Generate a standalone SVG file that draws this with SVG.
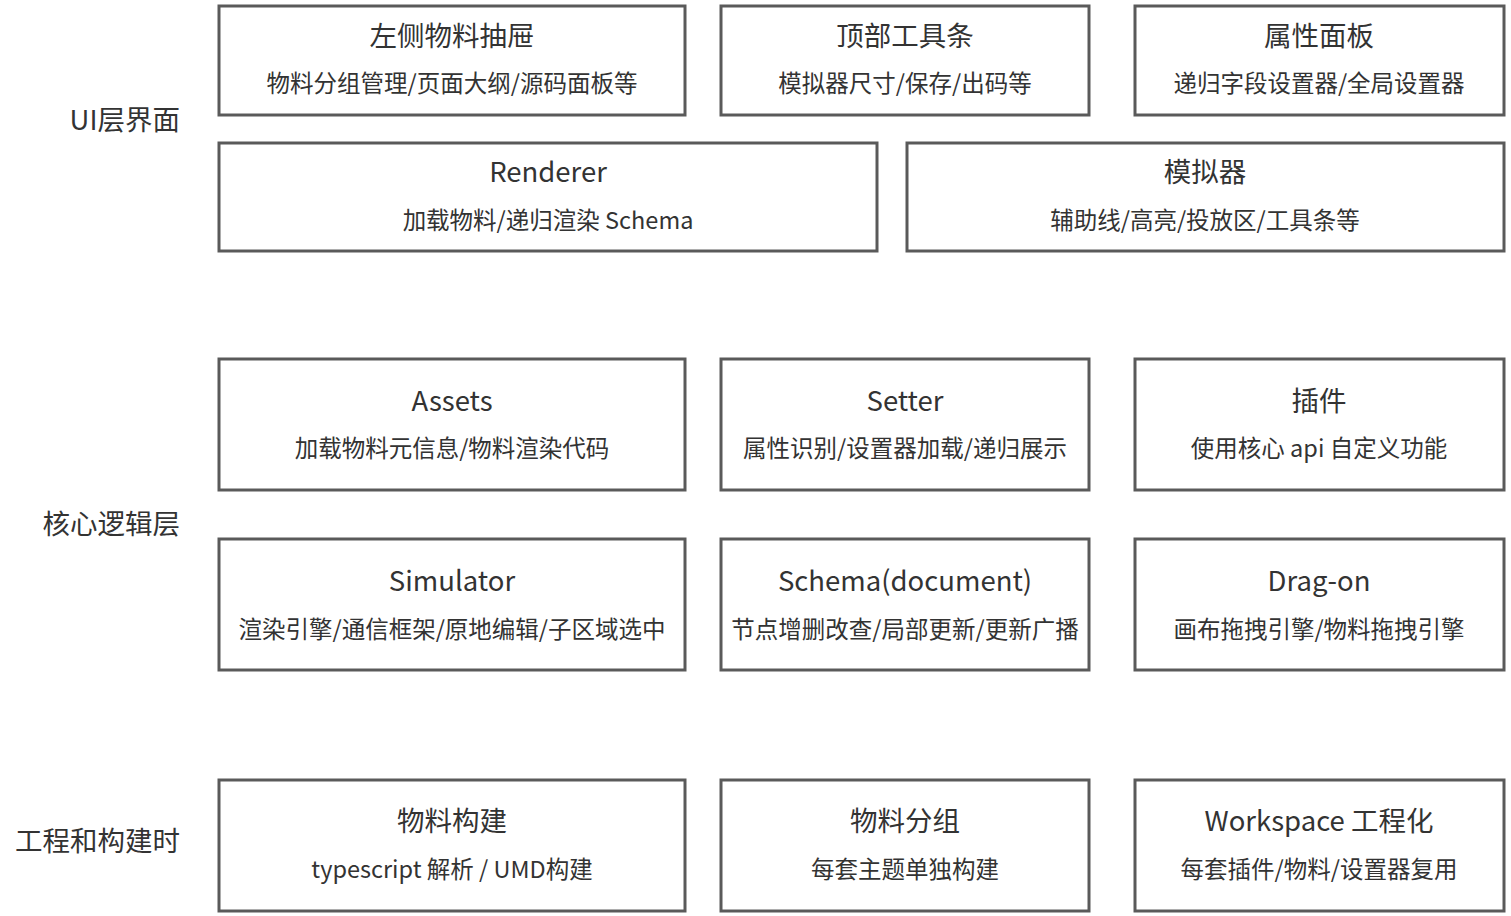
<svg xmlns="http://www.w3.org/2000/svg" width="1511" height="916" viewBox="0 0 1511 916">
<style>
.box{fill:#fff;stroke:#5a5a5a;stroke-width:3}
text{font-family:"Noto Sans CJK SC","Noto Sans",sans-serif;fill:#333;dominant-baseline:central}
.t{font-size:27.5px;text-anchor:middle}
.s{font-size:23.5px;text-anchor:middle}
.l{font-size:27.5px;text-anchor:end}
</style>
<rect width="1511" height="916" fill="#fff"/>
<g id="layer-labels">
<text class="l" x="180" y="118">UI层界面</text>
<text class="l" x="180" y="522">核心逻辑层</text>
<text class="l" x="180" y="839">工程和构建时</text>
</g>
<g id="left-drawer"><rect class="box" x="219" y="6" width="466" height="109"/><text class="t" x="452" y="34">左侧物料抽屉</text><text class="s" x="452" y="82">物料分组管理/页面大纲/源码面板等</text></g>
<g id="toolbar"><rect class="box" x="721" y="6" width="368" height="109"/><text class="t" x="905" y="34">顶部工具条</text><text class="s" x="905" y="82">模拟器尺寸/保存/出码等</text></g>
<g id="props"><rect class="box" x="1135" y="6" width="369" height="109"/><text class="t" x="1319" y="34">属性面板</text><text class="s" x="1319" y="82">递归字段设置器/全局设置器</text></g>
<g id="renderer"><rect class="box" x="219" y="143" width="658" height="108"/><text class="t" x="548" y="170">Renderer</text><text class="s" x="548" y="219">加载物料/递归渲染 Schema</text></g>
<g id="simulator-ui"><rect class="box" x="907" y="143" width="597" height="108"/><text class="t" x="1205" y="170">模拟器</text><text class="s" x="1205" y="219">辅助线/高亮/投放区/工具条等</text></g>
<g id="assets"><rect class="box" x="219" y="359" width="466" height="131"/><text class="t" x="452" y="399">Assets</text><text class="s" x="452" y="447">加载物料元信息/物料渲染代码</text></g>
<g id="setter"><rect class="box" x="721" y="359" width="368" height="131"/><text class="t" x="905" y="399">Setter</text><text class="s" x="905" y="447">属性识别/设置器加载/递归展示</text></g>
<g id="plugin"><rect class="box" x="1135" y="359" width="369" height="131"/><text class="t" x="1319" y="399">插件</text><text class="s" x="1319" y="447">使用核心 api 自定义功能</text></g>
<g id="simulator"><rect class="box" x="219" y="539" width="466" height="131"/><text class="t" x="452" y="579">Simulator</text><text class="s" x="452" y="628">渲染引擎/通信框架/原地编辑/子区域选中</text></g>
<g id="schema"><rect class="box" x="721" y="539" width="368" height="131"/><text class="t" x="905" y="579">Schema(document)</text><text class="s" x="905" y="628">节点增删改查/局部更新/更新广播</text></g>
<g id="dragon"><rect class="box" x="1135" y="539" width="369" height="131"/><text class="t" x="1319" y="579">Drag-on</text><text class="s" x="1319" y="628">画布拖拽引擎/物料拖拽引擎</text></g>
<g id="build"><rect class="box" x="219" y="780" width="466" height="131"/><text class="t" x="452" y="819">物料构建</text><text class="s" x="452" y="868">typescript 解析 / UMD构建</text></g>
<g id="group"><rect class="box" x="721" y="780" width="368" height="131"/><text class="t" x="905" y="819">物料分组</text><text class="s" x="905" y="868">每套主题单独构建</text></g>
<g id="workspace"><rect class="box" x="1135" y="780" width="369" height="131"/><text class="t" x="1319" y="819">Workspace 工程化</text><text class="s" x="1319" y="868">每套插件/物料/设置器复用</text></g>
<g id="connectors"></g>
</svg>
